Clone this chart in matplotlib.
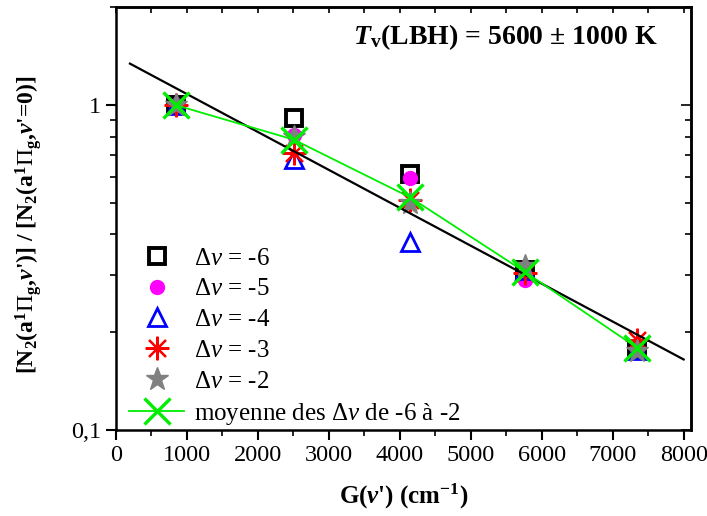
import numpy as np
import matplotlib
matplotlib.use("Agg")
import matplotlib.pyplot as plt
from matplotlib.ticker import FixedLocator, FuncFormatter, LogLocator, NullFormatter

plt.rcParams['font.family'] = ['Liberation Serif', 'DejaVu Serif']
plt.rcParams['mathtext.fontset'] = 'custom'
plt.rcParams['mathtext.rm'] = 'Liberation Serif'
plt.rcParams['mathtext.it'] = 'Liberation Serif:italic'
plt.rcParams['mathtext.bf'] = 'Liberation Serif:bold'
plt.rcParams['mathtext.bfit'] = 'Liberation Serif:bold:italic'

# G(v') in cm-1 for v' = 0..4
G = [842, 2507, 4147, 5760, 7350]
# relative populations for each Delta v sequence
dv_m6 = [1.0, 0.915, 0.615, 0.31, 0.177]
dv_m5 = [1.0, 0.81, 0.595, 0.29, 0.177]
dv_m4 = [1.0, 0.68, 0.38, 0.31, 0.176]
dv_m3 = [1.0, 0.71, 0.51, 0.305, 0.189]
dv_m2 = [1.0, 0.80, 0.50, 0.32, 0.175]

mean = np.mean([dv_m6, dv_m5, dv_m4, dv_m3, dv_m2], axis=0)

# linear fit of log(population) vs G
p = np.polyfit(G, np.log10(mean), 1)
x_fit = np.array([200, 8000])
y_fit = 10 ** np.polyval(p, x_fit)

fig = plt.figure(figsize=(7.07, 5.16), dpi=100)
ax = fig.add_axes([0.1637, 0.1667, 0.977 - 0.1637, 0.9859 - 0.1667])

ax.plot(G, dv_m6, ls='none', marker='s', ms=12, mfc='none', mec='black', mew=2.8,
        label=r'$\Delta\mathit{v}$ = -6')
ax.plot(G, dv_m5, ls='none', marker='o', ms=10, mfc='#ff00ff', mec='#ff00ff',
        label=r'$\Delta\mathit{v}$ = -5')
ax.plot(G, dv_m4, ls='none', marker='^', ms=13, mfc='none', mec='#0000ff', mew=2,
        label=r'$\Delta\mathit{v}$ = -4')
ax.plot(G, dv_m3, ls='none', marker=(8, 2, 0), ms=17, mec='#ff0000', mew=1.6,
        label=r'$\Delta\mathit{v}$ = -3')
ax.plot(G, dv_m2, ls='none', marker='*', ms=17, mfc='#808080', mec='#808080',
        label=r'$\Delta\mathit{v}$ = -2')
ax.plot(x_fit, y_fit, color='black', lw=1.6)
ax.plot(G, mean, color='#00ee00', lw=1.3, marker='x', ms=19, mew=2.4,
        label=r'moyenne des $\Delta\mathit{v}$ de -6 à -2')

ax.set_yscale('log')
ax.set_xlim(0, 8100)
ax.set_ylim(0.1, 2)

ax.xaxis.set_major_locator(FixedLocator(np.arange(0, 8001, 1000)))
ax.xaxis.set_minor_locator(FixedLocator(np.arange(500, 8001, 1000)))
ax.yaxis.set_major_locator(FixedLocator([0.1, 1]))
ax.yaxis.set_minor_locator(LogLocator(base=10, subs=np.arange(2, 10)))
ax.yaxis.set_major_formatter(FuncFormatter(lambda v, pos: '1' if v >= 1 else '0,1'))
ax.yaxis.set_minor_formatter(NullFormatter())

ax.tick_params(which='major', direction='out', length=7, width=1.5, labelsize=17.5)
ax.tick_params(which='minor', direction='out', length=4, width=1.2)
ax.tick_params(which='both', top=False, right=False)
secx = ax.secondary_xaxis('top')
secx.set_xticks(np.arange(0, 8001, 500))
secx.tick_params(direction='in', length=4, width=1.2, labeltop=False)
secx.set_xticklabels([])
secy = ax.secondary_yaxis('right')
secy.set_yticks([0.1, 1])
secy.yaxis.set_minor_locator(LogLocator(base=10, subs=np.arange(2, 10)))
secy.tick_params(which='both', direction='in', width=1.2, labelright=False)
secy.tick_params(which='major', length=7)
secy.tick_params(which='minor', length=4)
secy.set_yticklabels([])
secy.yaxis.set_minor_formatter(NullFormatter())

for s in ax.spines.values():
    s.set_linewidth(1.8)
secx.spines['top'].set_linewidth(1.8)
secy.spines['right'].set_linewidth(1.8)

ax.set_xlabel(r"G($\mathbfit{v}$') (cm$^\mathbf{-1}$)", fontsize=18, fontweight='bold', labelpad=12)
ax.set_ylabel(r"[N$_\mathbf{2}$(a$^\mathbf{1}$$\Pi_\mathbf{g}$,$\mathbfit{v}$')] / "
              r"[N$_\mathbf{2}$(a$^\mathbf{1}$$\Pi_\mathbf{g}$,$\mathbfit{v}$'=0)]",
              fontsize=17, fontweight='bold')
ax.yaxis.set_label_coords(-0.124, 0.485)

ax.text(0.942, 0.93, r"$\mathbfit{T}_\mathbf{v}$(LBH) = 5600 ± 1000 K", transform=ax.transAxes,
        ha='right', va='center', fontsize=20, fontweight='bold')

ax.legend(loc='lower left', bbox_to_anchor=(0.0, -0.025), frameon=False, fontsize=18,
          handlelength=2.2, handletextpad=0.4, labelspacing=0.33, borderaxespad=0.15)

fig.savefig('out.png', dpi=100)
